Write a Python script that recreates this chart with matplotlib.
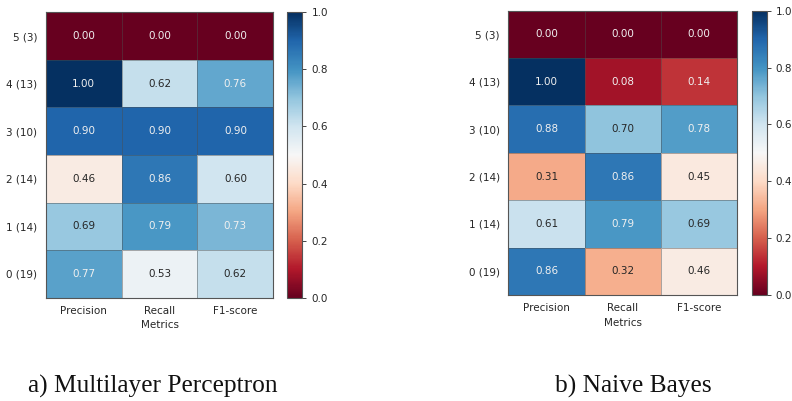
import matplotlib
matplotlib.use("Agg")
import matplotlib.pyplot as plt
import numpy as np

metrics = ["Precision", "Recall", "F1-score"]
classes = ["5 (3)", "4 (13)", "3 (10)", "2 (14)", "1 (14)", "0 (19)"]

mlp_precision = [0.00, 1.00, 0.90, 0.46, 0.69, 0.77]
mlp_recall    = [0.00, 0.62, 0.90, 0.86, 0.79, 0.53]
mlp_f1        = [0.00, 0.76, 0.90, 0.60, 0.73, 0.62]

nb_precision = [0.00, 1.00, 0.88, 0.31, 0.61, 0.86]
nb_recall    = [0.00, 0.08, 0.70, 0.86, 0.79, 0.32]
nb_f1        = [0.00, 0.14, 0.78, 0.45, 0.69, 0.46]

captions = ["a) Multilayer Perceptron", "b) Naive Bayes"]

FS = 7.5
TXT = "#262626"

fig = plt.figure(figsize=(7.92, 4.01), dpi=100)

layouts = [
    dict(ax=[0.0577, 0.2576, 0.2874, 0.7117], cb=[0.3628, 0.2576, 0.0189, 0.7117]),
    dict(ax=[0.6418, 0.2643, 0.2891, 0.7090], cb=[0.9491, 0.2643, 0.0189, 0.7090]),
]
datasets = [
    np.array([mlp_precision, mlp_recall, mlp_f1]).T,
    np.array([nb_precision, nb_recall, nb_f1]).T,
]

cmap = plt.get_cmap("RdBu")
for lay, data in zip(layouts, datasets):
    ax = fig.add_axes(lay["ax"])
    mesh = ax.pcolormesh(data, cmap=cmap, vmin=0, vmax=1,
                         edgecolors=(0.3, 0.3, 0.3, 0.45), linewidth=0.6)
    ax.set_xlim(0, 3)
    ax.set_ylim(6, 0)
    ax.set_xticks(np.arange(3) + 0.5)
    ax.set_xticklabels(metrics, fontsize=FS, color=TXT)
    ax.set_yticks(np.arange(6) + 0.5)
    ax.set_yticklabels(classes, fontsize=FS, color=TXT)
    ax.tick_params(length=0, pad=6)
    ax.set_xlabel("Metrics", fontsize=FS, color=TXT, labelpad=3)
    for s in ax.spines.values():
        s.set_color("#555555")
        s.set_linewidth(0.8)
    for i in range(data.shape[0]):
        for j in range(data.shape[1]):
            v = data[i, j]
            col = "#f0f0f0" if (v > 0.72 or v < 0.2) else TXT
            ax.text(j + 0.5, i + 0.5, f"{v:.2f}", ha="center", va="center",
                    fontsize=FS, color=col)
    cax = fig.add_axes(lay["cb"])
    cb = fig.colorbar(mesh, cax=cax, ticks=[0, 0.2, 0.4, 0.6, 0.8, 1.0])
    cb.ax.set_yticklabels(["0.0", "0.2", "0.4", "0.6", "0.8", "1.0"])
    cb.ax.tick_params(labelsize=FS, colors=TXT, length=3, width=0.6)
    cb.outline.set_edgecolor("#555555")
    cb.outline.set_linewidth(0.8)

fig.text(28 / 792, 1 - 393 / 401, captions[0], fontsize=18.3,
         family="Liberation Serif", va="baseline", ha="left", color="#111111")
fig.text(555 / 792, 1 - 393 / 401, captions[1], fontsize=18.3,
         family="Liberation Serif", va="baseline", ha="left", color="#111111")

fig.savefig("out.png", dpi=100)
